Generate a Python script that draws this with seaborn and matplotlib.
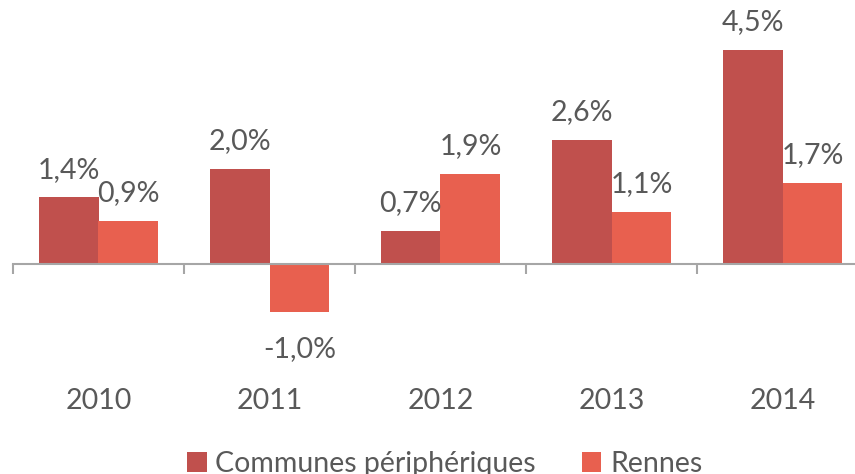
import numpy as np
import pandas as pd
import matplotlib
matplotlib.use('Agg')
import matplotlib.pyplot as plt
import seaborn as sns

# data
years = ['2010', '2011', '2012', '2013', '2014']
communes = [1.4, 2.0, 0.7, 2.6, 4.5]
rennes = [0.9, -1.0, 1.9, 1.1, 1.7]
series = ['Communes périphériques', 'Rennes']
colors = ['#C0504D', '#E8604F']

df = pd.DataFrame({
    'annee': years * 2,
    'valeur': communes + rennes,
    'serie': [series[0]] * len(years) + [series[1]] * len(years),
})

sns.set_style('white')
plt.rcParams['font.family'] = ['Lato', 'DejaVu Sans']
text_color = '#595959'
axis_color = '#A6A6A6'
fs = 20.5

fig = plt.figure(figsize=(8.55, 4.74), dpi=100)
# axes spans the full height so that zero sits at the same place as in the reference
ax = fig.add_axes([13 / 855, 0, 1.0, 1])

sns.barplot(data=df, x='annee', y='valeur', hue='serie', palette=colors,
            width=0.70, saturation=1, linewidth=0, ax=ax, legend=True)

ax.set_ylim(-4.412, 5.546)
ax.set_xlim(-0.5, 4.5)

# data labels
for cont in ax.containers:
    for bar in cont:
        v = bar.get_height()
        x = bar.get_x() + bar.get_width() / 2
        lab = f'{v:.1f}%'.replace('.', ',')
        if v >= 0:
            ax.annotate(lab, (x, v), xytext=(0, 20), textcoords='offset points',
                        ha='center', va='center', fontsize=fs, color=text_color)
        else:
            ax.annotate(lab, (x, v), xytext=(0, -27), textcoords='offset points',
                        ha='center', va='center', fontsize=fs, color=text_color)

for s in ['top', 'right', 'left']:
    ax.spines[s].set_visible(False)
ax.spines['bottom'].set_position(('data', 0))
ax.spines['bottom'].set_color(axis_color)
ax.spines['bottom'].set_linewidth(1.5)
ax.set_yticks([])
ax.set_xticks(range(len(years)))
ax.set_xticklabels(years)
ax.set_xticks(np.arange(-0.5, len(years), 1.0), minor=True)
ax.tick_params(axis='x', which='major', length=0, pad=89, labelsize=fs,
               labelcolor=text_color)
ax.tick_params(axis='x', which='minor', length=7, width=1.5, color=axis_color,
               direction='out', bottom=True)
ax.set_xlabel('')
ax.set_ylabel('')

handles, labels = ax.get_legend_handles_labels()
ax.get_legend().remove()
fig.legend(handles, labels, loc='center', bbox_to_anchor=(0.52, 0.022), ncol=2,
           frameon=False, fontsize=fs, labelcolor=text_color, handlelength=0.7,
           handleheight=0.7, handletextpad=0.3, columnspacing=1.6)

fig.savefig('out.png', dpi=100)
